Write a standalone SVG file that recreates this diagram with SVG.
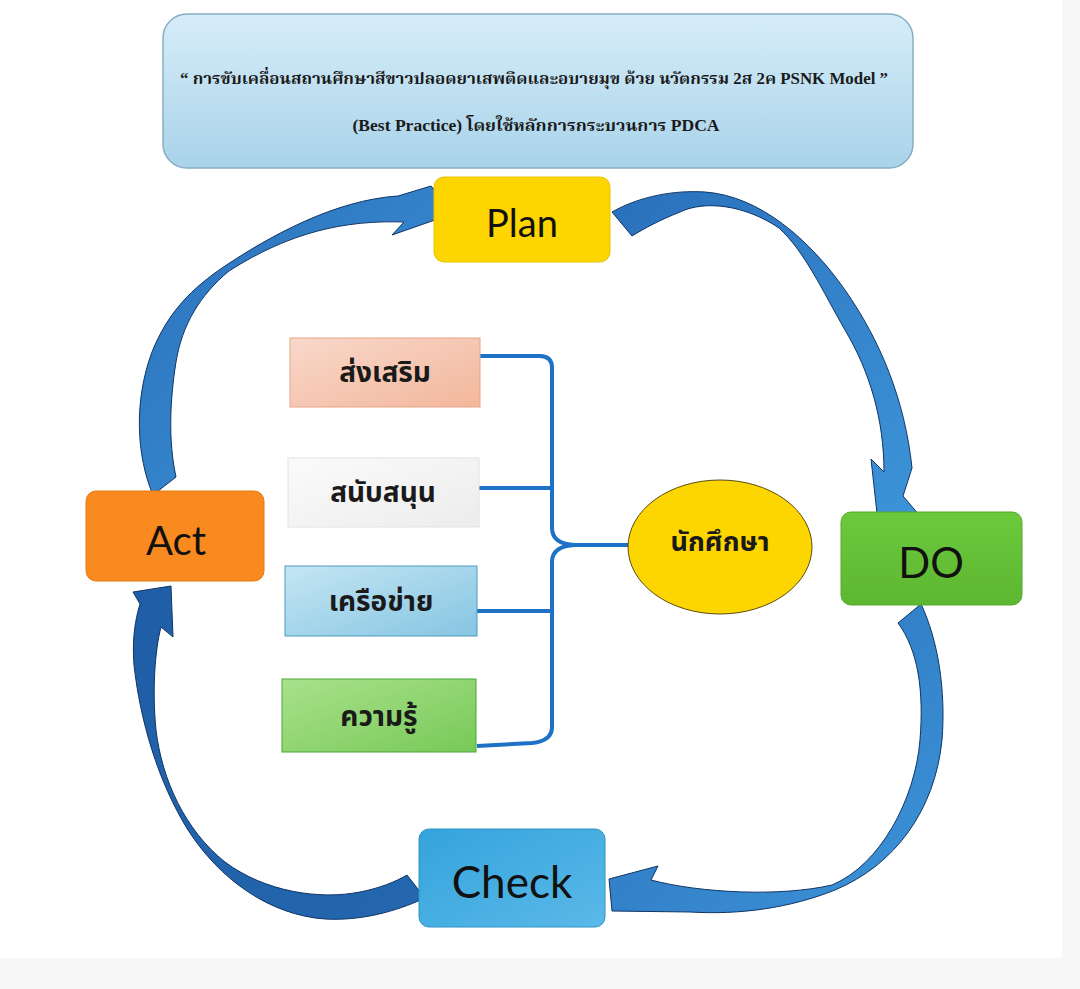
<svg xmlns="http://www.w3.org/2000/svg" width="1080" height="989" viewBox="0 0 1080 989">
<style>
  .lbl{font-family:"Lato","Noto Sans","Liberation Sans",sans-serif;fill:#111;text-anchor:middle}
  .th{font-family:"Noto Sans Thai","Noto Sans","Liberation Sans",sans-serif;font-weight:bold;fill:#1a1a1a;text-anchor:middle}
  .ttl{font-family:"Liberation Serif","Noto Serif Thai","Noto Sans Thai",serif;font-weight:bold;fill:#1a1a1a;text-anchor:middle}
  .arrow{stroke:#0f3566;stroke-width:1;stroke-linejoin:round}
  .conn{fill:none;stroke:#1d72c8;stroke-width:4;stroke-linecap:butt;stroke-linejoin:round}
</style>
<defs>
  <linearGradient id="gTitle" x1="0" y1="0" x2="0" y2="1">
    <stop offset="0" stop-color="#d6edf8"/><stop offset="1" stop-color="#a9d3ea"/>
  </linearGradient>
  <linearGradient id="gArrow" x1="0" y1="0" x2="1" y2="1">
    <stop offset="0" stop-color="#2a70bb"/><stop offset="1" stop-color="#3d94d8"/>
  </linearGradient>
  <linearGradient id="gArrowD" x1="0" y1="0" x2="1" y2="1">
    <stop offset="0" stop-color="#1f5ea6"/><stop offset="1" stop-color="#2467ae"/>
  </linearGradient>
  <linearGradient id="gPeach" x1="0" y1="0" x2="1" y2="1">
    <stop offset="0" stop-color="#f9d8ca"/><stop offset="1" stop-color="#f2b79c"/>
  </linearGradient>
  <linearGradient id="gWhite" x1="0" y1="0" x2="1" y2="1">
    <stop offset="0" stop-color="#fbfbfb"/><stop offset="1" stop-color="#ececec"/>
  </linearGradient>
  <linearGradient id="gBlue" x1="0" y1="0" x2="1" y2="1">
    <stop offset="0" stop-color="#c4e6f3"/><stop offset="1" stop-color="#86c5e2"/>
  </linearGradient>
  <linearGradient id="gGreen" x1="0" y1="0" x2="1" y2="1">
    <stop offset="0" stop-color="#a9e18c"/><stop offset="1" stop-color="#78c957"/>
  </linearGradient>
  <linearGradient id="gCheck" x1="0" y1="0" x2="1" y2="1">
    <stop offset="0" stop-color="#35a3dc"/><stop offset="1" stop-color="#5ab9e8"/>
  </linearGradient>
  <linearGradient id="gDo" x1="0" y1="0" x2="0" y2="1">
    <stop offset="0" stop-color="#6cc93c"/><stop offset="1" stop-color="#5db731"/>
  </linearGradient>
</defs>

<rect x="0" y="0" width="1080" height="989" fill="#f7f7f7"/>
<rect x="0" y="0" width="1062" height="958" fill="#ffffff"/>

<g id="title">
  <rect x="163" y="14" width="750" height="154" rx="24" fill="url(#gTitle)" stroke="#86aec4" stroke-width="1.5"/>
  <text class="ttl" x="534" y="84" font-size="16" textLength="708" lengthAdjust="spacingAndGlyphs">“ การขับเคลื่อนสถานศึกษาสีขาวปลอดยาเสพติดและอบายมุข ด้วย นวัตกรรม 2ส 2ค PSNK Model ”</text>
  <text class="ttl" x="536" y="131" font-size="16" textLength="367" lengthAdjust="spacingAndGlyphs">(Best Practice) โดยใช้หลักการกระบวนการ PDCA</text>
</g>

<g id="connectors">
  <path id="arrow-act-plan" class="arrow" fill="url(#gArrow)" d="M153,495 C136,455 134,400 152,352 C168,312 192,288 225,266 C270,236 335,200 398,196 L431,186 L455,213 L392,235 L404,222 C345,220 290,232 229,271 C200,295 182,325 176,362 C170,400 168,440 176,477 Z"/>
  <path id="arrow-plan-do" class="arrow" fill="url(#gArrow)" d="M612,212 C640,196 675,190 705,192 C760,196 810,240 845,290 C880,340 905,400 912,468 L903,496 L920,516 L878,522 L871,459 L884,472 C884,420 870,372 845,330 C822,290 805,252 779,228 C745,205 705,200 680,212 C660,220 645,228 632,236 Z"/>
  <path id="arrow-do-check" class="arrow" fill="url(#gArrow)" d="M921,604 C938,640 946,690 942,740 C935,810 895,865 835,890 C790,908 740,915 690,912 L612,911 L609,879 L658,866 L651,880 C700,893 780,897 832,885 C880,865 915,800 920,740 C924,690 918,650 898,623 Z"/>
  <path id="arrow-check-act" class="arrow" fill="url(#gArrowD)" d="M425,898 C395,912 360,921 325,919 C270,915 220,880 188,830 C158,782 140,720 134,665 C132,640 135,620 140,604 L133,592 L171,586 L173,637 L161,627 C155,650 152,690 156,730 C162,780 185,830 225,862 C265,892 320,900 360,892 C380,888 395,882 407,875 Z"/>

  <path class="conn" d="M480,356 H540 Q552,356 552,368 V528 Q552,544 575,545"/>
  <path class="conn" d="M575,545 Q552,546 552,562 V727 Q552,741 532,743 L477,746"/>
  <path class="conn" d="M573,545 H630"/>
  <path class="conn" d="M479,488 H552"/>
  <path class="conn" d="M477,611 H552"/>
</g>

<g id="node-plan">
  <rect x="434" y="177" width="176" height="85" rx="10" fill="#fdd500" stroke="#e8c200" stroke-width="1"/>
  <text class="lbl" x="522" y="237" font-size="38">Plan</text>
</g>
<g id="node-do">
  <rect x="841" y="512" width="181" height="93" rx="10" fill="url(#gDo)" stroke="#56a92e" stroke-width="1"/>
  <text class="lbl" x="931" y="578" font-size="42">DO</text>
</g>
<g id="node-check">
  <rect x="419" y="829" width="186" height="98" rx="10" fill="url(#gCheck)" stroke="#2d92c6" stroke-width="1"/>
  <text class="lbl" x="512" y="898" font-size="44">Check</text>
</g>
<g id="node-act">
  <rect x="86" y="491" width="178" height="90" rx="10" fill="#f98a1f" stroke="#e9790f" stroke-width="1"/>
  <text class="lbl" x="176" y="555" font-size="40">Act</text>
</g>

<g id="node-songserm">
  <rect x="290" y="338" width="190" height="69" fill="url(#gPeach)" stroke="#e6a487" stroke-width="1"/>
  <text class="th" x="385" y="382" font-size="28">ส่งเสริม</text>
</g>
<g id="node-sanabsanun">
  <rect x="288" y="458" width="191" height="69" fill="url(#gWhite)" stroke="#e2e2e2" stroke-width="1"/>
  <text class="th" x="383" y="502" font-size="28">สนับสนุน</text>
</g>
<g id="node-kruekhai">
  <rect x="285" y="566" width="192" height="70" fill="url(#gBlue)" stroke="#4c9cc0" stroke-width="1"/>
  <text class="th" x="381" y="611" font-size="28">เครือข่าย</text>
</g>
<g id="node-khwamru">
  <rect x="282" y="679" width="194" height="73" fill="url(#gGreen)" stroke="#4aa53a" stroke-width="1"/>
  <text class="th" x="379" y="726" font-size="28">ความรู้</text>
</g>
<g id="node-student">
  <ellipse cx="720" cy="547" rx="92" ry="67" fill="#fdd500" stroke="#5a4d10" stroke-width="1"/>
  <text class="th" x="720" y="551" font-size="27">นักศึกษา</text>
</g>
</svg>
